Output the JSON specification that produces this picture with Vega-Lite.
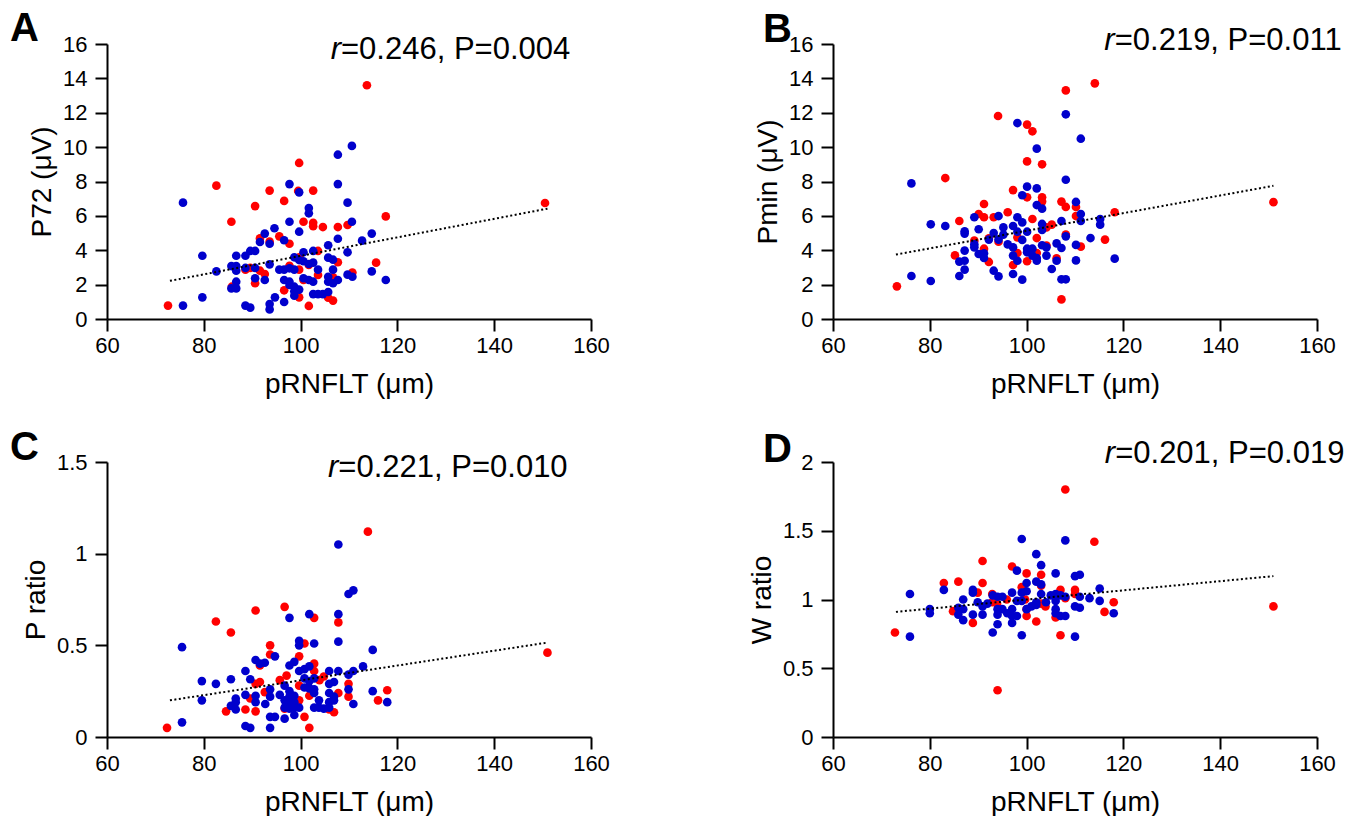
{
"$schema":"https://vega.github.io/schema/vega-lite/v6.json",
"padding":{"left":10,"top":9,"right":0,"bottom":0},
"background":"white",
"datasets":{
"pts":[
{"panel":"A","group":"Group 1","pRNFLT":113.7,"value":13.6},{"panel":"A","group":"Group 1","pRNFLT":99.7,"value":9.08},{"panel":"A","group":"Group 1","pRNFLT":82.6,"value":7.76},{"panel":"A","group":"Group 1","pRNFLT":93.6,"value":7.47},{"panel":"A","group":"Group 1","pRNFLT":102.6,"value":7.47},{"panel":"A","group":"Group 1","pRNFLT":99.5,"value":7.45},{"panel":"A","group":"Group 1","pRNFLT":90.6,"value":6.57},{"panel":"A","group":"Group 1","pRNFLT":96.6,"value":6.87},{"panel":"A","group":"Group 1","pRNFLT":85.7,"value":5.66},{"panel":"A","group":"Group 1","pRNFLT":100.6,"value":5.66},{"panel":"A","group":"Group 1","pRNFLT":102.6,"value":5.6},{"panel":"A","group":"Group 1","pRNFLT":102.6,"value":5.4},{"panel":"A","group":"Group 1","pRNFLT":104.6,"value":5.35},{"panel":"A","group":"Group 1","pRNFLT":107.7,"value":5.35},{"panel":"A","group":"Group 1","pRNFLT":109.7,"value":5.47},{"panel":"A","group":"Group 1","pRNFLT":117.6,"value":5.97},{"panel":"A","group":"Group 1","pRNFLT":91.6,"value":4.69},{"panel":"A","group":"Group 1","pRNFLT":93.6,"value":4.5},{"panel":"A","group":"Group 1","pRNFLT":95.6,"value":4.81},{"panel":"A","group":"Group 1","pRNFLT":97.7,"value":4.38},{"panel":"A","group":"Group 1","pRNFLT":103.6,"value":3.96},{"panel":"A","group":"Group 1","pRNFLT":99.7,"value":3.59},{"panel":"A","group":"Group 1","pRNFLT":107.7,"value":3.3},{"panel":"A","group":"Group 1","pRNFLT":115.6,"value":3.28},{"panel":"A","group":"Group 1","pRNFLT":88.6,"value":2.87},{"panel":"A","group":"Group 1","pRNFLT":89.6,"value":2.97},{"panel":"A","group":"Group 1","pRNFLT":91.6,"value":2.81},{"panel":"A","group":"Group 1","pRNFLT":92.6,"value":2.62},{"panel":"A","group":"Group 1","pRNFLT":97.7,"value":3.1},{"panel":"A","group":"Group 1","pRNFLT":99.7,"value":2.87},{"panel":"A","group":"Group 1","pRNFLT":101.7,"value":3.14},{"panel":"A","group":"Group 1","pRNFLT":103.6,"value":2.56},{"panel":"A","group":"Group 1","pRNFLT":106.7,"value":2.42},{"panel":"A","group":"Group 1","pRNFLT":110.7,"value":2.7},{"panel":"A","group":"Group 1","pRNFLT":90.6,"value":2.08},{"panel":"A","group":"Group 1","pRNFLT":85.8,"value":1.88},{"panel":"A","group":"Group 1","pRNFLT":96.6,"value":1.67},{"panel":"A","group":"Group 1","pRNFLT":99.7,"value":1.26},{"panel":"A","group":"Group 1","pRNFLT":105.7,"value":1.24},{"panel":"A","group":"Group 1","pRNFLT":106.7,"value":1.07},{"panel":"A","group":"Group 1","pRNFLT":101.7,"value":0.76},{"panel":"A","group":"Group 1","pRNFLT":72.6,"value":0.78},{"panel":"A","group":"Group 1","pRNFLT":100.6,"value":2.27},{"panel":"A","group":"Group 1","pRNFLT":150.5,"value":6.75},
{"panel":"A","group":"Group 2","pRNFLT":110.6,"value":10.07},{"panel":"A","group":"Group 2","pRNFLT":107.7,"value":9.56},{"panel":"A","group":"Group 2","pRNFLT":97.7,"value":7.85},{"panel":"A","group":"Group 2","pRNFLT":107.7,"value":7.85},{"panel":"A","group":"Group 2","pRNFLT":99.7,"value":7.37},{"panel":"A","group":"Group 2","pRNFLT":75.7,"value":6.77},{"panel":"A","group":"Group 2","pRNFLT":109.7,"value":6.77},{"panel":"A","group":"Group 2","pRNFLT":101.7,"value":6.46},{"panel":"A","group":"Group 2","pRNFLT":101.7,"value":6.15},{"panel":"A","group":"Group 2","pRNFLT":97.7,"value":5.66},{"panel":"A","group":"Group 2","pRNFLT":110.6,"value":5.66},{"panel":"A","group":"Group 2","pRNFLT":99.7,"value":5.08},{"panel":"A","group":"Group 2","pRNFLT":94.6,"value":5.28},{"panel":"A","group":"Group 2","pRNFLT":92.6,"value":4.97},{"panel":"A","group":"Group 2","pRNFLT":91.6,"value":4.48},{"panel":"A","group":"Group 2","pRNFLT":93.6,"value":4.38},{"panel":"A","group":"Group 2","pRNFLT":96.6,"value":4.58},{"panel":"A","group":"Group 2","pRNFLT":107.7,"value":4.67},{"panel":"A","group":"Group 2","pRNFLT":114.7,"value":4.97},{"panel":"A","group":"Group 2","pRNFLT":112.7,"value":4.56},{"panel":"A","group":"Group 2","pRNFLT":105.7,"value":4.29},{"panel":"A","group":"Group 2","pRNFLT":79.7,"value":3.68},{"panel":"A","group":"Group 2","pRNFLT":86.7,"value":3.68},{"panel":"A","group":"Group 2","pRNFLT":88.6,"value":3.68},{"panel":"A","group":"Group 2","pRNFLT":89.6,"value":3.96},{"panel":"A","group":"Group 2","pRNFLT":90.6,"value":3.96},{"panel":"A","group":"Group 2","pRNFLT":100.6,"value":3.88},{"panel":"A","group":"Group 2","pRNFLT":102.6,"value":3.96},{"panel":"A","group":"Group 2","pRNFLT":109.7,"value":3.88},{"panel":"A","group":"Group 2","pRNFLT":98.7,"value":3.59},{"panel":"A","group":"Group 2","pRNFLT":99.7,"value":3.43},{"panel":"A","group":"Group 2","pRNFLT":100.6,"value":3.36},{"panel":"A","group":"Group 2","pRNFLT":101.7,"value":3.2},{"panel":"A","group":"Group 2","pRNFLT":102.6,"value":3.28},{"panel":"A","group":"Group 2","pRNFLT":105.7,"value":3.57},{"panel":"A","group":"Group 2","pRNFLT":106.7,"value":3.45},{"panel":"A","group":"Group 2","pRNFLT":93.6,"value":3.18},{"panel":"A","group":"Group 2","pRNFLT":85.7,"value":3.08},{"panel":"A","group":"Group 2","pRNFLT":86.7,"value":3.08},{"panel":"A","group":"Group 2","pRNFLT":82.6,"value":2.77},{"panel":"A","group":"Group 2","pRNFLT":86.7,"value":2.81},{"panel":"A","group":"Group 2","pRNFLT":88.6,"value":2.97},{"panel":"A","group":"Group 2","pRNFLT":90.6,"value":2.97},{"panel":"A","group":"Group 2","pRNFLT":95.6,"value":2.87},{"panel":"A","group":"Group 2","pRNFLT":96.6,"value":2.87},{"panel":"A","group":"Group 2","pRNFLT":97.7,"value":2.95},{"panel":"A","group":"Group 2","pRNFLT":98.7,"value":2.87},{"panel":"A","group":"Group 2","pRNFLT":103.6,"value":2.87},{"panel":"A","group":"Group 2","pRNFLT":106.7,"value":2.87},{"panel":"A","group":"Group 2","pRNFLT":90.6,"value":2.37},{"panel":"A","group":"Group 2","pRNFLT":92.6,"value":2.27},{"panel":"A","group":"Group 2","pRNFLT":96.6,"value":2.27},{"panel":"A","group":"Group 2","pRNFLT":97.7,"value":2.17},{"panel":"A","group":"Group 2","pRNFLT":100.6,"value":2.37},{"panel":"A","group":"Group 2","pRNFLT":101.7,"value":2.27},{"panel":"A","group":"Group 2","pRNFLT":102.6,"value":2.17},{"panel":"A","group":"Group 2","pRNFLT":105.7,"value":2.46},{"panel":"A","group":"Group 2","pRNFLT":105.7,"value":2.17},{"panel":"A","group":"Group 2","pRNFLT":106.7,"value":2.08},{"panel":"A","group":"Group 2","pRNFLT":107.7,"value":2.27},{"panel":"A","group":"Group 2","pRNFLT":109.7,"value":2.58},{"panel":"A","group":"Group 2","pRNFLT":110.7,"value":2.46},{"panel":"A","group":"Group 2","pRNFLT":114.7,"value":2.77},{"panel":"A","group":"Group 2","pRNFLT":117.6,"value":2.27},{"panel":"A","group":"Group 2","pRNFLT":86.7,"value":2.17},{"panel":"A","group":"Group 2","pRNFLT":85.7,"value":1.78},{"panel":"A","group":"Group 2","pRNFLT":86.7,"value":1.78},{"panel":"A","group":"Group 2","pRNFLT":97.7,"value":1.98},{"panel":"A","group":"Group 2","pRNFLT":98.7,"value":1.88},{"panel":"A","group":"Group 2","pRNFLT":98.7,"value":1.61},{"panel":"A","group":"Group 2","pRNFLT":99.7,"value":1.71},{"panel":"A","group":"Group 2","pRNFLT":98.7,"value":1.36},{"panel":"A","group":"Group 2","pRNFLT":94.7,"value":1.26},{"panel":"A","group":"Group 2","pRNFLT":102.6,"value":1.45},{"panel":"A","group":"Group 2","pRNFLT":103.6,"value":1.45},{"panel":"A","group":"Group 2","pRNFLT":104.6,"value":1.45},{"panel":"A","group":"Group 2","pRNFLT":105.7,"value":1.57},{"panel":"A","group":"Group 2","pRNFLT":79.7,"value":1.26},{"panel":"A","group":"Group 2","pRNFLT":96.6,"value":0.99},{"panel":"A","group":"Group 2","pRNFLT":75.7,"value":0.78},{"panel":"A","group":"Group 2","pRNFLT":88.6,"value":0.78},{"panel":"A","group":"Group 2","pRNFLT":89.6,"value":0.66},{"panel":"A","group":"Group 2","pRNFLT":93.6,"value":0.87},{"panel":"A","group":"Group 2","pRNFLT":93.6,"value":0.56},
{"panel":"B","group":"Group 1","pRNFLT":114.1,"value":13.71},{"panel":"B","group":"Group 1","pRNFLT":108.1,"value":13.3},{"panel":"B","group":"Group 1","pRNFLT":94.1,"value":11.81},{"panel":"B","group":"Group 1","pRNFLT":100.1,"value":11.31},{"panel":"B","group":"Group 1","pRNFLT":101.2,"value":10.92},{"panel":"B","group":"Group 1","pRNFLT":100.1,"value":9.17},{"panel":"B","group":"Group 1","pRNFLT":103.2,"value":9.0},{"panel":"B","group":"Group 1","pRNFLT":83.2,"value":8.2},{"panel":"B","group":"Group 1","pRNFLT":97.2,"value":7.5},{"panel":"B","group":"Group 1","pRNFLT":100.1,"value":7.08},{"panel":"B","group":"Group 1","pRNFLT":103.2,"value":7.08},{"panel":"B","group":"Group 1","pRNFLT":103.2,"value":6.83},{"panel":"B","group":"Group 1","pRNFLT":91.2,"value":6.69},{"panel":"B","group":"Group 1","pRNFLT":107.2,"value":6.83},{"panel":"B","group":"Group 1","pRNFLT":108.1,"value":6.52},{"panel":"B","group":"Group 1","pRNFLT":110.2,"value":6.52},{"panel":"B","group":"Group 1","pRNFLT":110.2,"value":5.99},{"panel":"B","group":"Group 1","pRNFLT":118.2,"value":6.21},{"panel":"B","group":"Group 1","pRNFLT":90.1,"value":6.11},{"panel":"B","group":"Group 1","pRNFLT":91.2,"value":5.92},{"panel":"B","group":"Group 1","pRNFLT":93.2,"value":5.92},{"panel":"B","group":"Group 1","pRNFLT":96.1,"value":6.21},{"panel":"B","group":"Group 1","pRNFLT":101.2,"value":5.82},{"panel":"B","group":"Group 1","pRNFLT":86.1,"value":5.7},{"panel":"B","group":"Group 1","pRNFLT":105.2,"value":5.49},{"panel":"B","group":"Group 1","pRNFLT":104.1,"value":5.33},{"panel":"B","group":"Group 1","pRNFLT":108.1,"value":4.91},{"panel":"B","group":"Group 1","pRNFLT":116.2,"value":4.62},{"panel":"B","group":"Group 1","pRNFLT":111.2,"value":4.21},{"panel":"B","group":"Group 1","pRNFLT":89.2,"value":4.56},{"panel":"B","group":"Group 1","pRNFLT":92.2,"value":4.69},{"panel":"B","group":"Group 1","pRNFLT":94.2,"value":4.5},{"panel":"B","group":"Group 1","pRNFLT":98.1,"value":4.75},{"panel":"B","group":"Group 1","pRNFLT":102.1,"value":4.71},{"panel":"B","group":"Group 1","pRNFLT":91.2,"value":4.09},{"panel":"B","group":"Group 1","pRNFLT":104.1,"value":4.27},{"panel":"B","group":"Group 1","pRNFLT":98.1,"value":3.84},{"panel":"B","group":"Group 1","pRNFLT":100.1,"value":3.36},{"panel":"B","group":"Group 1","pRNFLT":102.1,"value":3.84},{"panel":"B","group":"Group 1","pRNFLT":85.2,"value":3.7},{"panel":"B","group":"Group 1","pRNFLT":92.2,"value":3.32},{"panel":"B","group":"Group 1","pRNFLT":97.2,"value":3.14},{"panel":"B","group":"Group 1","pRNFLT":106.2,"value":3.53},{"panel":"B","group":"Group 1","pRNFLT":73.2,"value":1.9},{"panel":"B","group":"Group 1","pRNFLT":107.2,"value":1.14},{"panel":"B","group":"Group 1","pRNFLT":151,"value":6.8},
{"panel":"B","group":"Group 2","pRNFLT":108.1,"value":11.91},{"panel":"B","group":"Group 2","pRNFLT":98.1,"value":11.4},{"panel":"B","group":"Group 2","pRNFLT":111.2,"value":10.49},{"panel":"B","group":"Group 2","pRNFLT":102.1,"value":9.91},{"panel":"B","group":"Group 2","pRNFLT":76.2,"value":7.89},{"panel":"B","group":"Group 2","pRNFLT":108.1,"value":8.1},{"panel":"B","group":"Group 2","pRNFLT":100.1,"value":7.7},{"panel":"B","group":"Group 2","pRNFLT":102.1,"value":7.6},{"panel":"B","group":"Group 2","pRNFLT":99.1,"value":7.2},{"panel":"B","group":"Group 2","pRNFLT":102.1,"value":6.63},{"panel":"B","group":"Group 2","pRNFLT":103.2,"value":6.42},{"panel":"B","group":"Group 2","pRNFLT":110.2,"value":6.81},{"panel":"B","group":"Group 2","pRNFLT":111.2,"value":6.11},{"panel":"B","group":"Group 2","pRNFLT":111.2,"value":5.7},{"panel":"B","group":"Group 2","pRNFLT":115.2,"value":5.82},{"panel":"B","group":"Group 2","pRNFLT":115.2,"value":5.49},{"panel":"B","group":"Group 2","pRNFLT":89.2,"value":5.92},{"panel":"B","group":"Group 2","pRNFLT":94.2,"value":5.99},{"panel":"B","group":"Group 2","pRNFLT":98.1,"value":5.92},{"panel":"B","group":"Group 2","pRNFLT":99.1,"value":5.62},{"panel":"B","group":"Group 2","pRNFLT":107.2,"value":5.7},{"panel":"B","group":"Group 2","pRNFLT":80.2,"value":5.51},{"panel":"B","group":"Group 2","pRNFLT":83.2,"value":5.41},{"panel":"B","group":"Group 2","pRNFLT":95.2,"value":5.33},{"panel":"B","group":"Group 2","pRNFLT":97.2,"value":5.41},{"panel":"B","group":"Group 2","pRNFLT":103.2,"value":5.53},{"panel":"B","group":"Group 2","pRNFLT":103.2,"value":5.18},{"panel":"B","group":"Group 2","pRNFLT":87.2,"value":5.1},{"panel":"B","group":"Group 2","pRNFLT":87.2,"value":4.97},{"panel":"B","group":"Group 2","pRNFLT":90.1,"value":5.22},{"panel":"B","group":"Group 2","pRNFLT":93.2,"value":5.0},{"panel":"B","group":"Group 2","pRNFLT":95.2,"value":4.91},{"panel":"B","group":"Group 2","pRNFLT":98.1,"value":5.08},{"panel":"B","group":"Group 2","pRNFLT":100.1,"value":5.08},{"panel":"B","group":"Group 2","pRNFLT":108.1,"value":4.81},{"panel":"B","group":"Group 2","pRNFLT":113.2,"value":4.71},{"panel":"B","group":"Group 2","pRNFLT":92.2,"value":4.62},{"panel":"B","group":"Group 2","pRNFLT":94.2,"value":4.62},{"panel":"B","group":"Group 2","pRNFLT":89.2,"value":4.34},{"panel":"B","group":"Group 2","pRNFLT":89.2,"value":4.17},{"panel":"B","group":"Group 2","pRNFLT":96.1,"value":4.34},{"panel":"B","group":"Group 2","pRNFLT":97.2,"value":4.17},{"panel":"B","group":"Group 2","pRNFLT":99.1,"value":4.6},{"panel":"B","group":"Group 2","pRNFLT":100.1,"value":4.09},{"panel":"B","group":"Group 2","pRNFLT":101.2,"value":4.09},{"panel":"B","group":"Group 2","pRNFLT":103.2,"value":4.29},{"panel":"B","group":"Group 2","pRNFLT":104.1,"value":4.17},{"panel":"B","group":"Group 2","pRNFLT":106.2,"value":4.4},{"panel":"B","group":"Group 2","pRNFLT":107.2,"value":4.13},{"panel":"B","group":"Group 2","pRNFLT":110.2,"value":4.31},{"panel":"B","group":"Group 2","pRNFLT":87.2,"value":3.98},{"panel":"B","group":"Group 2","pRNFLT":90.1,"value":3.78},{"panel":"B","group":"Group 2","pRNFLT":91.2,"value":3.82},{"panel":"B","group":"Group 2","pRNFLT":91.2,"value":3.55},{"panel":"B","group":"Group 2","pRNFLT":97.2,"value":3.69},{"panel":"B","group":"Group 2","pRNFLT":98.1,"value":3.39},{"panel":"B","group":"Group 2","pRNFLT":100.1,"value":3.88},{"panel":"B","group":"Group 2","pRNFLT":101.2,"value":3.69},{"panel":"B","group":"Group 2","pRNFLT":102.1,"value":3.55},{"panel":"B","group":"Group 2","pRNFLT":102.1,"value":3.39},{"panel":"B","group":"Group 2","pRNFLT":104.1,"value":3.69},{"panel":"B","group":"Group 2","pRNFLT":106.2,"value":3.39},{"panel":"B","group":"Group 2","pRNFLT":110.2,"value":3.41},{"panel":"B","group":"Group 2","pRNFLT":118.2,"value":3.51},{"panel":"B","group":"Group 2","pRNFLT":86.1,"value":3.34},{"panel":"B","group":"Group 2","pRNFLT":87.2,"value":3.39},{"panel":"B","group":"Group 2","pRNFLT":87.2,"value":2.87},{"panel":"B","group":"Group 2","pRNFLT":86.1,"value":2.5},{"panel":"B","group":"Group 2","pRNFLT":93.2,"value":2.81},{"panel":"B","group":"Group 2","pRNFLT":94.2,"value":2.48},{"panel":"B","group":"Group 2","pRNFLT":97.2,"value":2.62},{"panel":"B","group":"Group 2","pRNFLT":105.2,"value":2.91},{"panel":"B","group":"Group 2","pRNFLT":76.2,"value":2.5},{"panel":"B","group":"Group 2","pRNFLT":80.2,"value":2.21},{"panel":"B","group":"Group 2","pRNFLT":99.1,"value":2.29},{"panel":"B","group":"Group 2","pRNFLT":107.2,"value":2.31},{"panel":"B","group":"Group 2","pRNFLT":108.1,"value":2.31},
{"panel":"C","group":"Group 1","pRNFLT":113.9,"value":1.12},{"panel":"C","group":"Group 1","pRNFLT":90.7,"value":0.69},{"panel":"C","group":"Group 1","pRNFLT":96.7,"value":0.71},{"panel":"C","group":"Group 1","pRNFLT":82.5,"value":0.63},{"panel":"C","group":"Group 1","pRNFLT":85.6,"value":0.57},{"panel":"C","group":"Group 1","pRNFLT":102.8,"value":0.65},{"panel":"C","group":"Group 1","pRNFLT":107.8,"value":0.625},{"panel":"C","group":"Group 1","pRNFLT":93.7,"value":0.5},{"panel":"C","group":"Group 1","pRNFLT":93.7,"value":0.45},{"panel":"C","group":"Group 1","pRNFLT":100.8,"value":0.51},{"panel":"C","group":"Group 1","pRNFLT":99.7,"value":0.44},{"panel":"C","group":"Group 1","pRNFLT":102.8,"value":0.4},{"panel":"C","group":"Group 1","pRNFLT":102.8,"value":0.36},{"panel":"C","group":"Group 1","pRNFLT":91.6,"value":0.39},{"panel":"C","group":"Group 1","pRNFLT":97.1,"value":0.335},{"panel":"C","group":"Group 1","pRNFLT":104.8,"value":0.33},{"panel":"C","group":"Group 1","pRNFLT":95.7,"value":0.31},{"panel":"C","group":"Group 1","pRNFLT":90.7,"value":0.29},{"panel":"C","group":"Group 1","pRNFLT":91.6,"value":0.3},{"panel":"C","group":"Group 1","pRNFLT":103.9,"value":0.31},{"panel":"C","group":"Group 1","pRNFLT":99.7,"value":0.28},{"panel":"C","group":"Group 1","pRNFLT":109.9,"value":0.29},{"panel":"C","group":"Group 1","pRNFLT":109.9,"value":0.22},{"panel":"C","group":"Group 1","pRNFLT":107.8,"value":0.24},{"panel":"C","group":"Group 1","pRNFLT":117.9,"value":0.255},{"panel":"C","group":"Group 1","pRNFLT":116,"value":0.2},{"panel":"C","group":"Group 1","pRNFLT":92.6,"value":0.245},{"panel":"C","group":"Group 1","pRNFLT":89.6,"value":0.21},{"panel":"C","group":"Group 1","pRNFLT":99.7,"value":0.2},{"panel":"C","group":"Group 1","pRNFLT":101.8,"value":0.225},{"panel":"C","group":"Group 1","pRNFLT":84.6,"value":0.14},{"panel":"C","group":"Group 1","pRNFLT":88.6,"value":0.15},{"panel":"C","group":"Group 1","pRNFLT":90.7,"value":0.14},{"panel":"C","group":"Group 1","pRNFLT":96.7,"value":0.155},{"panel":"C","group":"Group 1","pRNFLT":106.9,"value":0.135},{"panel":"C","group":"Group 1","pRNFLT":105.9,"value":0.15},{"panel":"C","group":"Group 1","pRNFLT":100.8,"value":0.11},{"panel":"C","group":"Group 1","pRNFLT":72.4,"value":0.05},{"panel":"C","group":"Group 1","pRNFLT":101.8,"value":0.05},{"panel":"C","group":"Group 1","pRNFLT":151,"value":0.46},
{"panel":"C","group":"Group 2","pRNFLT":107.8,"value":1.05},{"panel":"C","group":"Group 2","pRNFLT":109.9,"value":0.78},{"panel":"C","group":"Group 2","pRNFLT":110.9,"value":0.8},{"panel":"C","group":"Group 2","pRNFLT":97.7,"value":0.65},{"panel":"C","group":"Group 2","pRNFLT":101.8,"value":0.67},{"panel":"C","group":"Group 2","pRNFLT":107.8,"value":0.67},{"panel":"C","group":"Group 2","pRNFLT":107.8,"value":0.52},{"panel":"C","group":"Group 2","pRNFLT":99.7,"value":0.525},{"panel":"C","group":"Group 2","pRNFLT":99.7,"value":0.5},{"panel":"C","group":"Group 2","pRNFLT":102.8,"value":0.51},{"panel":"C","group":"Group 2","pRNFLT":75.5,"value":0.49},{"panel":"C","group":"Group 2","pRNFLT":114.9,"value":0.475},{"panel":"C","group":"Group 2","pRNFLT":94.7,"value":0.44},{"panel":"C","group":"Group 2","pRNFLT":90.7,"value":0.42},{"panel":"C","group":"Group 2","pRNFLT":91.6,"value":0.4},{"panel":"C","group":"Group 2","pRNFLT":92.6,"value":0.405},{"panel":"C","group":"Group 2","pRNFLT":97.7,"value":0.39},{"panel":"C","group":"Group 2","pRNFLT":98.7,"value":0.41},{"panel":"C","group":"Group 2","pRNFLT":99.7,"value":0.36},{"panel":"C","group":"Group 2","pRNFLT":100.8,"value":0.37},{"panel":"C","group":"Group 2","pRNFLT":101.8,"value":0.385},{"panel":"C","group":"Group 2","pRNFLT":88.6,"value":0.36},{"panel":"C","group":"Group 2","pRNFLT":105.9,"value":0.36},{"panel":"C","group":"Group 2","pRNFLT":107.8,"value":0.36},{"panel":"C","group":"Group 2","pRNFLT":109.9,"value":0.34},{"panel":"C","group":"Group 2","pRNFLT":110.9,"value":0.36},{"panel":"C","group":"Group 2","pRNFLT":112.9,"value":0.385},{"panel":"C","group":"Group 2","pRNFLT":85.6,"value":0.315},{"panel":"C","group":"Group 2","pRNFLT":89.6,"value":0.315},{"panel":"C","group":"Group 2","pRNFLT":79.6,"value":0.305},{"panel":"C","group":"Group 2","pRNFLT":82.5,"value":0.29},{"panel":"C","group":"Group 2","pRNFLT":100.8,"value":0.32},{"panel":"C","group":"Group 2","pRNFLT":101.8,"value":0.305},{"panel":"C","group":"Group 2","pRNFLT":102.8,"value":0.32},{"panel":"C","group":"Group 2","pRNFLT":96.7,"value":0.28},{"panel":"C","group":"Group 2","pRNFLT":105.9,"value":0.29},{"panel":"C","group":"Group 2","pRNFLT":106.9,"value":0.3},{"panel":"C","group":"Group 2","pRNFLT":100.8,"value":0.27},{"panel":"C","group":"Group 2","pRNFLT":101.8,"value":0.265},{"panel":"C","group":"Group 2","pRNFLT":102.8,"value":0.26},{"panel":"C","group":"Group 2","pRNFLT":93.7,"value":0.26},{"panel":"C","group":"Group 2","pRNFLT":109.9,"value":0.26},{"panel":"C","group":"Group 2","pRNFLT":114.9,"value":0.25},{"panel":"C","group":"Group 2","pRNFLT":88.6,"value":0.23},{"panel":"C","group":"Group 2","pRNFLT":90.7,"value":0.225},{"panel":"C","group":"Group 2","pRNFLT":93.7,"value":0.22},{"panel":"C","group":"Group 2","pRNFLT":95.7,"value":0.23},{"panel":"C","group":"Group 2","pRNFLT":97.7,"value":0.25},{"panel":"C","group":"Group 2","pRNFLT":97.7,"value":0.22},{"panel":"C","group":"Group 2","pRNFLT":98.7,"value":0.225},{"panel":"C","group":"Group 2","pRNFLT":102.8,"value":0.24},{"panel":"C","group":"Group 2","pRNFLT":105.9,"value":0.24},{"panel":"C","group":"Group 2","pRNFLT":106.9,"value":0.22},{"panel":"C","group":"Group 2","pRNFLT":79.6,"value":0.2},{"panel":"C","group":"Group 2","pRNFLT":86.6,"value":0.21},{"panel":"C","group":"Group 2","pRNFLT":86.6,"value":0.19},{"panel":"C","group":"Group 2","pRNFLT":85.6,"value":0.17},{"panel":"C","group":"Group 2","pRNFLT":90.7,"value":0.19},{"panel":"C","group":"Group 2","pRNFLT":92.7,"value":0.18},{"panel":"C","group":"Group 2","pRNFLT":96.7,"value":0.2},{"panel":"C","group":"Group 2","pRNFLT":97.7,"value":0.19},{"panel":"C","group":"Group 2","pRNFLT":98.7,"value":0.19},{"panel":"C","group":"Group 2","pRNFLT":96.7,"value":0.16},{"panel":"C","group":"Group 2","pRNFLT":97.7,"value":0.155},{"panel":"C","group":"Group 2","pRNFLT":98.7,"value":0.16},{"panel":"C","group":"Group 2","pRNFLT":99.7,"value":0.16},{"panel":"C","group":"Group 2","pRNFLT":103.8,"value":0.2},{"panel":"C","group":"Group 2","pRNFLT":103.8,"value":0.16},{"panel":"C","group":"Group 2","pRNFLT":105.9,"value":0.19},{"panel":"C","group":"Group 2","pRNFLT":106.9,"value":0.2},{"panel":"C","group":"Group 2","pRNFLT":110.9,"value":0.18},{"panel":"C","group":"Group 2","pRNFLT":117.9,"value":0.19},{"panel":"C","group":"Group 2","pRNFLT":102.8,"value":0.16},{"panel":"C","group":"Group 2","pRNFLT":104.8,"value":0.155},{"panel":"C","group":"Group 2","pRNFLT":105.9,"value":0.16},{"panel":"C","group":"Group 2","pRNFLT":86.6,"value":0.15},{"panel":"C","group":"Group 2","pRNFLT":94.7,"value":0.11},{"panel":"C","group":"Group 2","pRNFLT":93.7,"value":0.11},{"panel":"C","group":"Group 2","pRNFLT":96.7,"value":0.1},{"panel":"C","group":"Group 2","pRNFLT":98.7,"value":0.12},{"panel":"C","group":"Group 2","pRNFLT":75.5,"value":0.08},{"panel":"C","group":"Group 2","pRNFLT":88.6,"value":0.06},{"panel":"C","group":"Group 2","pRNFLT":89.6,"value":0.05},{"panel":"C","group":"Group 2","pRNFLT":93.7,"value":0.05},
{"panel":"D","group":"Group 1","pRNFLT":108,"value":1.8},{"panel":"D","group":"Group 1","pRNFLT":114,"value":1.42},{"panel":"D","group":"Group 1","pRNFLT":90.9,"value":1.28},{"panel":"D","group":"Group 1","pRNFLT":97,"value":1.24},{"panel":"D","group":"Group 1","pRNFLT":100,"value":1.19},{"panel":"D","group":"Group 1","pRNFLT":103,"value":1.18},{"panel":"D","group":"Group 1","pRNFLT":82.9,"value":1.12},{"panel":"D","group":"Group 1","pRNFLT":85.9,"value":1.13},{"panel":"D","group":"Group 1","pRNFLT":90.9,"value":1.12},{"panel":"D","group":"Group 1","pRNFLT":99,"value":1.09},{"panel":"D","group":"Group 1","pRNFLT":103,"value":1.1},{"panel":"D","group":"Group 1","pRNFLT":107,"value":1.07},{"panel":"D","group":"Group 1","pRNFLT":110,"value":1.07},{"panel":"D","group":"Group 1","pRNFLT":89.9,"value":1.05},{"panel":"D","group":"Group 1","pRNFLT":92.9,"value":1.04},{"panel":"D","group":"Group 1","pRNFLT":95.9,"value":1.0},{"panel":"D","group":"Group 1","pRNFLT":108,"value":1.01},{"panel":"D","group":"Group 1","pRNFLT":110,"value":1.04},{"panel":"D","group":"Group 1","pRNFLT":99.7,"value":1.0},{"panel":"D","group":"Group 1","pRNFLT":103,"value":0.97},{"panel":"D","group":"Group 1","pRNFLT":118,"value":0.98},{"panel":"D","group":"Group 1","pRNFLT":92.9,"value":0.98},{"panel":"D","group":"Group 1","pRNFLT":93.9,"value":0.97},{"panel":"D","group":"Group 1","pRNFLT":103.9,"value":0.95},{"panel":"D","group":"Group 1","pRNFLT":84.8,"value":0.915},{"panel":"D","group":"Group 1","pRNFLT":100,"value":0.93},{"panel":"D","group":"Group 1","pRNFLT":116.1,"value":0.91},{"panel":"D","group":"Group 1","pRNFLT":100,"value":0.88},{"panel":"D","group":"Group 1","pRNFLT":106,"value":0.87},{"panel":"D","group":"Group 1","pRNFLT":88.9,"value":0.83},{"panel":"D","group":"Group 1","pRNFLT":102,"value":0.84},{"panel":"D","group":"Group 1","pRNFLT":107,"value":0.74},{"panel":"D","group":"Group 1","pRNFLT":72.8,"value":0.76},{"panel":"D","group":"Group 1","pRNFLT":94,"value":0.34},{"panel":"D","group":"Group 1","pRNFLT":151,"value":0.95},
{"panel":"D","group":"Group 2","pRNFLT":99,"value":1.44},{"panel":"D","group":"Group 2","pRNFLT":108,"value":1.43},{"panel":"D","group":"Group 2","pRNFLT":102,"value":1.33},{"panel":"D","group":"Group 2","pRNFLT":103,"value":1.25},{"panel":"D","group":"Group 2","pRNFLT":98,"value":1.21},{"panel":"D","group":"Group 2","pRNFLT":106,"value":1.19},{"panel":"D","group":"Group 2","pRNFLT":110,"value":1.17},{"panel":"D","group":"Group 2","pRNFLT":111,"value":1.18},{"panel":"D","group":"Group 2","pRNFLT":100,"value":1.12},{"panel":"D","group":"Group 2","pRNFLT":102,"value":1.13},{"panel":"D","group":"Group 2","pRNFLT":103,"value":1.11},{"panel":"D","group":"Group 2","pRNFLT":75.9,"value":1.04},{"panel":"D","group":"Group 2","pRNFLT":82.9,"value":1.07},{"panel":"D","group":"Group 2","pRNFLT":88.9,"value":1.07},{"panel":"D","group":"Group 2","pRNFLT":88.9,"value":1.05},{"panel":"D","group":"Group 2","pRNFLT":115.1,"value":1.08},{"panel":"D","group":"Group 2","pRNFLT":93,"value":1.03},{"panel":"D","group":"Group 2","pRNFLT":94,"value":1.02},{"panel":"D","group":"Group 2","pRNFLT":95,"value":1.02},{"panel":"D","group":"Group 2","pRNFLT":97,"value":1.05},{"panel":"D","group":"Group 2","pRNFLT":99,"value":1.05},{"panel":"D","group":"Group 2","pRNFLT":100,"value":1.06},{"panel":"D","group":"Group 2","pRNFLT":103,"value":1.04},{"panel":"D","group":"Group 2","pRNFLT":105,"value":1.03},{"panel":"D","group":"Group 2","pRNFLT":106,"value":1.04},{"panel":"D","group":"Group 2","pRNFLT":107,"value":1.03},{"panel":"D","group":"Group 2","pRNFLT":108,"value":1.02},{"panel":"D","group":"Group 2","pRNFLT":111,"value":1.02},{"panel":"D","group":"Group 2","pRNFLT":113,"value":1.01},{"panel":"D","group":"Group 2","pRNFLT":115.1,"value":0.99},{"panel":"D","group":"Group 2","pRNFLT":86.9,"value":1.0},{"panel":"D","group":"Group 2","pRNFLT":89.9,"value":0.98},{"panel":"D","group":"Group 2","pRNFLT":91.9,"value":0.97},{"panel":"D","group":"Group 2","pRNFLT":98,"value":0.99},{"panel":"D","group":"Group 2","pRNFLT":99,"value":0.99},{"panel":"D","group":"Group 2","pRNFLT":102,"value":0.98},{"panel":"D","group":"Group 2","pRNFLT":104,"value":0.98},{"panel":"D","group":"Group 2","pRNFLT":106,"value":0.99},{"panel":"D","group":"Group 2","pRNFLT":80,"value":0.93},{"panel":"D","group":"Group 2","pRNFLT":80,"value":0.9},{"panel":"D","group":"Group 2","pRNFLT":85.9,"value":0.94},{"panel":"D","group":"Group 2","pRNFLT":86.9,"value":0.93},{"panel":"D","group":"Group 2","pRNFLT":85.9,"value":0.89},{"panel":"D","group":"Group 2","pRNFLT":86.9,"value":0.85},{"panel":"D","group":"Group 2","pRNFLT":90.9,"value":0.95},{"panel":"D","group":"Group 2","pRNFLT":90.9,"value":0.89},{"panel":"D","group":"Group 2","pRNFLT":94,"value":0.93},{"panel":"D","group":"Group 2","pRNFLT":94,"value":0.89},{"panel":"D","group":"Group 2","pRNFLT":97,"value":0.93},{"panel":"D","group":"Group 2","pRNFLT":97,"value":0.88},{"panel":"D","group":"Group 2","pRNFLT":97,"value":0.83},{"panel":"D","group":"Group 2","pRNFLT":98,"value":0.88},{"panel":"D","group":"Group 2","pRNFLT":100,"value":0.93},{"panel":"D","group":"Group 2","pRNFLT":101,"value":0.95},{"panel":"D","group":"Group 2","pRNFLT":102,"value":0.96},{"panel":"D","group":"Group 2","pRNFLT":106,"value":0.93},{"panel":"D","group":"Group 2","pRNFLT":106,"value":0.9},{"panel":"D","group":"Group 2","pRNFLT":107,"value":0.88},{"panel":"D","group":"Group 2","pRNFLT":108,"value":0.88},{"panel":"D","group":"Group 2","pRNFLT":110,"value":0.95},{"panel":"D","group":"Group 2","pRNFLT":111,"value":0.94},{"panel":"D","group":"Group 2","pRNFLT":118,"value":0.9},{"panel":"D","group":"Group 2","pRNFLT":88.9,"value":0.89},{"panel":"D","group":"Group 2","pRNFLT":94,"value":0.82},{"panel":"D","group":"Group 2","pRNFLT":93,"value":0.76},{"panel":"D","group":"Group 2","pRNFLT":99,"value":0.74},{"panel":"D","group":"Group 2","pRNFLT":110,"value":0.73},{"panel":"D","group":"Group 2","pRNFLT":75.9,"value":0.73},{"panel":"D","group":"Group 2","pRNFLT":96,"value":0.9},{"panel":"D","group":"Group 2","pRNFLT":95,"value":0.93}
],
"fit":[
{"panel":"A","pRNFLT":73,"value":2.22},{"panel":"A","pRNFLT":151,"value":6.42},
{"panel":"B","pRNFLT":73,"value":3.75},{"panel":"B","pRNFLT":151,"value":7.75},
{"panel":"C","pRNFLT":73,"value":0.2},{"panel":"C","pRNFLT":151,"value":0.515},
{"panel":"D","pRNFLT":73,"value":0.91},{"panel":"D","pRNFLT":151,"value":1.17}
]
},
"columns":2,
"spacing":{"row":143,"column":242},
"bounds":"flush",
"concat":[
{"width":484,"height":275,
 "title":{"text":"A","anchor":"start","frame":"group","dx":-97,"dy":48,"offset":0,"fontSize":40,"fontWeight":"bold","font":"Liberation Sans","baseline":"alphabetic","color":"black"},
 "encoding":{"x":{"field":"pRNFLT","type":"quantitative","scale":{"domain":[60,160]},"axis":{"values":[60,80,100,120,140,160],"title":"pRNFLT (μm)"}},
    "y":{"field":"value","type":"quantitative","scale":{"domain":[0,16]},"axis":{"values":[0,2,4,6,8,10,12,14,16],"labelOverlap":false,"tickCount":9,"title":"P72 (μV)"}}},
 "layer":[
  {"data":{"name":"pts"},"transform":[{"filter":"datum.panel === 'A'"}],"mark":{"type":"circle","size":75,"opacity":1},
   "encoding":{"color":{"field":"group","type":"nominal","scale":{"domain":["Group 1","Group 2"],"range":["#ff0000","#0000cc"]},"legend":null}}},
  {"data":{"name":"fit"},"transform":[{"filter":"datum.panel === 'A'"}],"mark":{"type":"line","color":"black","strokeWidth":2,"strokeDash":[2,2.5]}},
  {"data":{"values":[{"t":"r","pRNFLT":108.35,"value":15.12}]},"mark":{"type":"text","fontStyle":"italic","align":"right","baseline":"alphabetic","fontSize":31,"font":"Liberation Sans","color":"black"},
   "encoding":{"text":{"field":"t"}}},
  {"data":{"values":[{"t":"=0.246, P=0.004","pRNFLT":108.35,"value":15.12}]},"mark":{"type":"text","align":"left","baseline":"alphabetic","fontSize":31,"font":"Liberation Sans","color":"black"},
   "encoding":{"text":{"field":"t"}}}
 ]},
{"width":484,"height":275,
 "title":{"text":"B","anchor":"start","frame":"group","dx":-70,"dy":57,"offset":0,"fontSize":40,"fontWeight":"bold","font":"Liberation Sans","baseline":"alphabetic","color":"black"},
 "encoding":{"x":{"field":"pRNFLT","type":"quantitative","scale":{"domain":[60,160]},"axis":{"values":[60,80,100,120,140,160],"title":"pRNFLT (μm)"}},
    "y":{"field":"value","type":"quantitative","scale":{"domain":[0,16]},"axis":{"values":[0,2,4,6,8,10,12,14,16],"labelOverlap":false,"tickCount":9,"title":"Pmin (μV)"}}},
 "layer":[
  {"data":{"name":"pts"},"transform":[{"filter":"datum.panel === 'B'"}],"mark":{"type":"circle","size":75,"opacity":1},
   "encoding":{"color":{"field":"group","type":"nominal","scale":{"domain":["Group 1","Group 2"],"range":["#ff0000","#0000cc"]},"legend":null}}},
  {"data":{"name":"fit"},"transform":[{"filter":"datum.panel === 'B'"}],"mark":{"type":"line","color":"black","strokeWidth":2,"strokeDash":[2,2.5]}},
  {"data":{"values":[{"t":"r","pRNFLT":118.2,"value":15.65}]},"mark":{"type":"text","fontStyle":"italic","align":"right","baseline":"alphabetic","fontSize":31,"font":"Liberation Sans","color":"black"},
   "encoding":{"text":{"field":"t"}}},
  {"data":{"values":[{"t":"=0.219, P=0.011","pRNFLT":118.2,"value":15.65}]},"mark":{"type":"text","align":"left","baseline":"alphabetic","fontSize":31,"font":"Liberation Sans","color":"black"},
   "encoding":{"text":{"field":"t"}}}
 ]},
{"width":484,"height":275,
 "title":{"text":"C","anchor":"start","frame":"group","dx":-97,"dy":49,"offset":0,"fontSize":40,"fontWeight":"bold","font":"Liberation Sans","baseline":"alphabetic","color":"black"},
 "encoding":{"x":{"field":"pRNFLT","type":"quantitative","scale":{"domain":[60,160]},"axis":{"values":[60,80,100,120,140,160],"title":"pRNFLT (μm)"}},
    "y":{"field":"value","type":"quantitative","scale":{"domain":[0,1.5]},"axis":{"values":[0,0.5,1,1.5],"format":"~g","labelOverlap":false,"title":"P ratio"}}},
 "layer":[
  {"data":{"name":"pts"},"transform":[{"filter":"datum.panel === 'C'"}],"mark":{"type":"circle","size":75,"opacity":1},
   "encoding":{"color":{"field":"group","type":"nominal","scale":{"domain":["Group 1","Group 2"],"range":["#ff0000","#0000cc"]},"legend":null}}},
  {"data":{"name":"fit"},"transform":[{"filter":"datum.panel === 'C'"}],"mark":{"type":"line","color":"black","strokeWidth":2,"strokeDash":[2,2.5]}},
  {"data":{"values":[{"t":"r","pRNFLT":107.8,"value":1.42}]},"mark":{"type":"text","fontStyle":"italic","align":"right","baseline":"alphabetic","fontSize":31,"font":"Liberation Sans","color":"black"},
   "encoding":{"text":{"field":"t"}}},
  {"data":{"values":[{"t":"=0.221, P=0.010","pRNFLT":107.8,"value":1.42}]},"mark":{"type":"text","align":"left","baseline":"alphabetic","fontSize":31,"font":"Liberation Sans","color":"black"},
   "encoding":{"text":{"field":"t"}}}
 ]},
{"width":484,"height":275,
 "title":{"text":"D","anchor":"start","frame":"group","dx":-70,"dy":64,"offset":0,"fontSize":40,"fontWeight":"bold","font":"Liberation Sans","baseline":"alphabetic","color":"black"},
 "encoding":{"x":{"field":"pRNFLT","type":"quantitative","scale":{"domain":[60,160]},"axis":{"values":[60,80,100,120,140,160],"title":"pRNFLT (μm)"}},
    "y":{"field":"value","type":"quantitative","scale":{"domain":[0,2]},"axis":{"values":[0,0.5,1,1.5,2],"format":"~g","labelOverlap":false,"title":"W ratio"}}},
 "layer":[
  {"data":{"name":"pts"},"transform":[{"filter":"datum.panel === 'D'"}],"mark":{"type":"circle","size":75,"opacity":1},
   "encoding":{"color":{"field":"group","type":"nominal","scale":{"domain":["Group 1","Group 2"],"range":["#ff0000","#0000cc"]},"legend":null}}},
  {"data":{"name":"fit"},"transform":[{"filter":"datum.panel === 'D'"}],"mark":{"type":"line","color":"black","strokeWidth":2,"strokeDash":[2,2.5]}},
  {"data":{"values":[{"t":"r","pRNFLT":118.3,"value":1.99}]},"mark":{"type":"text","fontStyle":"italic","align":"right","baseline":"alphabetic","fontSize":31,"font":"Liberation Sans","color":"black"},
   "encoding":{"text":{"field":"t"}}},
  {"data":{"values":[{"t":"=0.201, P=0.019","pRNFLT":118.3,"value":1.99}]},"mark":{"type":"text","align":"left","baseline":"alphabetic","fontSize":31,"font":"Liberation Sans","color":"black"},
   "encoding":{"text":{"field":"t"}}}
 ]}
],
"config":{
 "view":{"stroke":null},
 "font":"Liberation Sans",
 "axis":{"grid":false,"labelOverlap":false,"domainColor":"black","domainWidth":2,"tickColor":"black","tickWidth":2,"labelColor":"black","labelFont":"Liberation Sans","labelFontSize":22,"titleFont":"Liberation Sans","titleFontSize":28,"titleFontWeight":"normal","titleColor":"black"},
 "axisX":{"tickSize":12,"labelPadding":4,"titlePadding":14,"labelFlush":false},
 "axisY":{"tickSize":12,"labelPadding":8,"titlePadding":6}
}
}
